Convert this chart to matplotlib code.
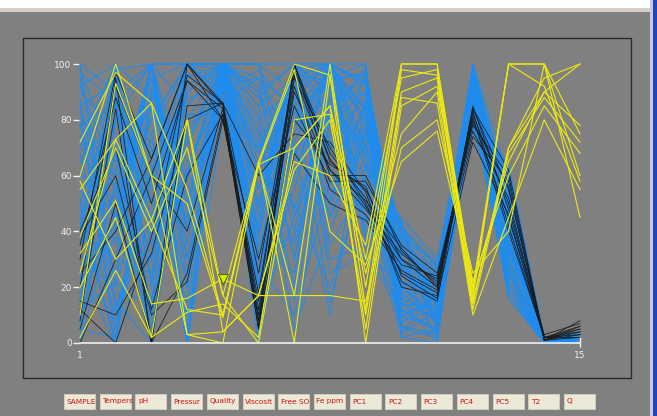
import matplotlib
matplotlib.use("Agg")
import matplotlib.pyplot as plt
from matplotlib.patches import Rectangle

# column buttons under the axes (text as shown, truncated by the widget)
columns = ["SAMPLE", "Tempers", "pH", "Pressur", "Quality", "Viscosit", "Free SO",
           "Fe ppm", "PC1", "PC2", "PC3", "PC4", "PC5", "T2", "Q"]
axis_ids = list(range(1, 16))
y_ticks = [0, 20, 40, 60, 80, 100]

# blue group
blue_rows = [
    [100, 90, 100, 85, 100, 70, 98, 100, 100, 5, 2, 100, 60, 0, 1],
    [98, 65, 80, 100, 100, 90, 100, 95, 96, 10, 5, 98, 55, 1, 2],
    [95, 40, 100, 60, 100, 95, 85, 70, 90, 20, 10, 95, 50, 0, 0],
    [92, 100, 55, 96, 95, 40, 100, 60, 85, 15, 0, 92, 45, 1, 3],
    [90, 75, 30, 100, 100, 20, 60, 98, 80, 30, 8, 90, 40, 0, 1],
    [88, 20, 70, 45, 90, 55, 95, 40, 75, 35, 15, 88, 35, 2, 2],
    [85, 93, 10, 80, 100, 85, 30, 85, 70, 25, 20, 100, 30, 0, 0],
    [83, 55, 95, 30, 85, 10, 75, 100, 65, 40, 25, 96, 25, 1, 4],
    [80, 5, 60, 100, 100, 60, 50, 20, 60, 45, 30, 94, 20, 0, 1],
    [78, 85, 45, 70, 100, 100, 90, 55, 55, 12, 5, 86, 62, 1, 2],
    [75, 35, 100, 0, 80, 30, 100, 90, 50, 8, 12, 84, 58, 0, 0],
    [72, 100, 20, 90, 100, 75, 15, 75, 45, 22, 18, 82, 52, 1, 3],
    [70, 60, 85, 50, 95, 0, 65, 100, 40, 38, 22, 80, 48, 0, 1],
    [68, 15, 0, 100, 100, 45, 98, 30, 35, 42, 28, 78, 42, 2, 2],
    [65, 80, 75, 20, 100, 90, 40, 95, 100, 2, 0, 100, 38, 0, 0],
    [62, 45, 90, 65, 88, 25, 85, 50, 98, 18, 7, 97, 33, 1, 1],
    [60, 95, 35, 100, 100, 65, 0, 80, 94, 28, 14, 93, 28, 0, 4],
    [58, 25, 100, 40, 92, 95, 70, 10, 88, 33, 24, 89, 22, 1, 2],
    [55, 70, 50, 85, 100, 50, 100, 65, 82, 6, 3, 85, 18, 0, 0],
    [52, 10, 65, 0, 100, 15, 55, 100, 78, 14, 9, 81, 64, 2, 1],
    [50, 88, 5, 75, 98, 80, 92, 45, 72, 24, 16, 77, 56, 0, 3],
    [48, 50, 80, 100, 100, 35, 25, 88, 68, 36, 26, 100, 46, 1, 2],
    [45, 0, 40, 55, 84, 70, 80, 98, 62, 44, 4, 99, 36, 0, 0],
    [42, 98, 100, 25, 100, 5, 100, 35, 58, 4, 11, 95, 26, 1, 1],
    [40, 30, 25, 95, 100, 100, 45, 72, 52, 16, 21, 91, 16, 0, 2],
    [38, 78, 70, 10, 94, 55, 88, 100, 48, 26, 27, 87, 60, 2, 3],
    [35, 62, 95, 100, 100, 28, 10, 58, 42, 32, 6, 83, 54, 0, 1],
    [32, 18, 15, 62, 100, 88, 68, 92, 38, 40, 13, 79, 44, 1, 0],
    [30, 90, 60, 88, 90, 42, 100, 25, 32, 11, 19, 76, 34, 0, 2],
    [28, 42, 100, 35, 100, 72, 35, 82, 99, 21, 23, 98, 24, 1, 4],
    [25, 8, 45, 100, 100, 20, 95, 100, 93, 29, 1, 94, 50, 0, 1],
    [22, 68, 0, 78, 86, 95, 58, 48, 87, 37, 10, 90, 40, 2, 2],
    [20, 100, 88, 0, 100, 62, 78, 96, 81, 9, 17, 86, 30, 0, 0],
    [18, 38, 30, 92, 100, 8, 100, 68, 76, 19, 22, 82, 20, 1, 3],
    [15, 82, 72, 48, 96, 78, 20, 100, 70, 27, 29, 78, 62, 0, 1],
    [12, 22, 100, 100, 100, 38, 88, 15, 64, 35, 8, 100, 52, 1, 2],
    [10, 95, 52, 15, 100, 92, 48, 88, 56, 43, 14, 96, 42, 0, 0],
    [8, 58, 12, 82, 82, 50, 100, 62, 46, 3, 20, 92, 32, 2, 1],
    [5, 2, 92, 58, 100, 22, 72, 100, 36, 13, 25, 88, 22, 0, 3],
    [2, 72, 40, 100, 100, 82, 5, 40, 30, 23, 2, 84, 16, 1, 2],
    [0, 48, 100, 5, 98, 68, 96, 94, 97, 31, 6, 80, 58, 0, 0],
    [100, 12, 62, 72, 100, 32, 38, 78, 91, 39, 12, 97, 48, 1, 1],
    [97, 86, 22, 100, 90, 98, 82, 100, 84, 7, 18, 93, 38, 0, 2],
    [60, 52, 100, 42, 100, 12, 100, 52, 79, 17, 24, 89, 28, 2, 4],
    [85, 0, 90, 40, 100, 60, 100, 85, 95, 12, 4, 99, 52, 0, 1],
    [70, 100, 0, 100, 100, 85, 95, 100, 92, 20, 9, 96, 44, 1, 2],
    [55, 30, 100, 0, 96, 40, 100, 90, 86, 26, 15, 91, 36, 0, 0],
    [40, 92, 10, 90, 100, 100, 60, 100, 80, 34, 22, 87, 28, 1, 3],
    [25, 0, 75, 100, 100, 55, 100, 70, 74, 41, 27, 83, 20, 0, 1],
    [10, 80, 100, 30, 92, 0, 90, 100, 66, 6, 3, 79, 60, 2, 2],
    [92, 60, 0, 0, 100, 75, 80, 95, 58, 16, 11, 100, 50, 0, 0],
    [78, 45, 100, 100, 88, 20, 100, 60, 50, 28, 20, 95, 42, 1, 1],
    [64, 98, 40, 60, 100, 92, 30, 100, 44, 38, 29, 90, 34, 0, 3],
    [50, 0, 85, 0, 100, 48, 100, 80, 99, 2, 5, 86, 26, 1, 2],
    [36, 70, 0, 100, 94, 68, 92, 100, 94, 14, 13, 82, 18, 0, 0],
    [22, 40, 100, 50, 100, 10, 45, 88, 89, 24, 18, 78, 58, 2, 1],
    [6, 100, 60, 100, 100, 88, 100, 100, 83, 32, 24, 97, 48, 0, 4],
    [99, 20, 30, 80, 86, 35, 70, 45, 77, 42, 7, 93, 38, 1, 2],
    [45, 85, 100, 20, 100, 100, 100, 100, 71, 10, 16, 88, 30, 0, 1],
    [15, 55, 15, 100, 98, 30, 85, 92, 63, 20, 26, 84, 22, 1, 0],
]

# black group
black_rows = [
    [30, 97, 66, 100, 86, 8, 100, 65, 55, 30, 20, 84, 55, 2, 6],
    [20, 92, 60, 94, 84, 5, 95, 70, 50, 25, 18, 82, 50, 1, 8],
    [10, 84, 0, 85, 86, 12, 90, 62, 48, 32, 22, 80, 45, 2, 4],
    [38, 60, 10, 22, 80, 30, 85, 58, 58, 35, 25, 78, 60, 1, 3],
    [5, 50, 0, 25, 82, 6, 100, 68, 52, 22, 15, 83, 42, 2, 5],
    [25, 40, 66, 100, 85, 10, 92, 55, 46, 28, 24, 76, 52, 1, 2],
    [15, 10, 32, 80, 86, 60, 75, 72, 54, 20, 17, 85, 48, 3, 7],
    [35, 88, 50, 94, 80, 15, 100, 60, 60, 33, 21, 74, 58, 1, 4],
    [0, 30, 60, 40, 84, 8, 68, 50, 44, 26, 19, 81, 40, 2, 3],
    [12, 0, 38, 96, 86, 25, 98, 66, 49, 30, 23, 79, 56, 1, 6],
    [40, 70, 12, 60, 82, 5, 80, 64, 56, 24, 16, 72, 46, 2, 2],
    [8, 95, 0, 100, 80, 18, 96, 62, 51, 34, 20, 84, 62, 1, 5],
]

# yellow group
yellow_rows = [
    [72, 97, 86, 55, 10, 65, 100, 96, 20, 100, 100, 20, 100, 100, 75],
    [60, 100, 60, 50, 9, 64, 70, 85, 30, 95, 98, 15, 70, 90, 100],
    [55, 73, 44, 80, 4, 17, 62, 80, 10, 90, 95, 12, 68, 88, 72],
    [38, 70, 40, 70, 17, 65, 0, 96, 0, 85, 92, 22, 60, 85, 68],
    [32, 51, 14, 16, 23, 17, 65, 60, 35, 100, 100, 18, 100, 92, 58],
    [20, 45, 2, 11, 14, 2, 80, 82, 25, 75, 90, 10, 45, 80, 55],
    [10, 93, 60, 3, 0, 64, 17, 17, 15, 70, 80, 25, 40, 100, 45],
    [2, 26, 2, 80, 17, 0, 70, 85, 5, 88, 86, 14, 70, 95, 100],
    [58, 30, 44, 12, 10, 64, 98, 40, 28, 65, 76, 20, 65, 90, 78],
    [25, 73, 86, 3, 4, 17, 17, 100, 12, 98, 96, 16, 100, 100, 60],
]

marker_axis = 5
marker_value = 23

W, H = 657, 416
fig = plt.figure(figsize=(W / 100, H / 100), dpi=100, facecolor="#808080")

# window chrome: top strip and right border
fig.add_artist(Rectangle((0, 1 - 8 / H), 1, 8 / H, transform=fig.transFigure,
                         facecolor="white", edgecolor="none"))
fig.add_artist(Rectangle((0, 1 - 12 / H), 1, 4 / H, transform=fig.transFigure,
                         facecolor="#D4D0C8", edgecolor="none"))
fig.add_artist(Rectangle((650 / W, 0), 3 / W, 1, transform=fig.transFigure,
                         facecolor="#C8C8E8", edgecolor="none"))
fig.add_artist(Rectangle((653 / W, 0), 4 / W, 1, transform=fig.transFigure,
                         facecolor="#2044C0", edgecolor="none"))

# plot frame
fig.add_artist(Rectangle((23 / W, 1 - 378 / H), 608 / W, 340 / H,
                         transform=fig.transFigure, facecolor="none",
                         edgecolor="#2A2A2A", lw=1))

x0, x1 = 80, 580
ax = fig.add_axes([x0 / W, 73 / H, (x1 - x0) / W, 279 / H])
ax.set_facecolor("none")
ax.set_xlim(1, 15)
ax.set_ylim(0, 100)

for row in blue_rows:
    ax.plot(axis_ids, row, color="#1E8CF0", lw=0.75, clip_on=False)
for row in black_rows:
    ax.plot(axis_ids, row, color="#1A1A1A", lw=0.55, clip_on=False)
for row in yellow_rows:
    ax.plot(axis_ids, row, color="#EEEA10", lw=0.8, clip_on=False)

ax.plot([marker_axis], [marker_value], marker="v", ms=7, color="#C8F000",
        markeredgecolor="#404000", markeredgewidth=0.5, clip_on=False)

for s in ["top", "right", "left"]:
    ax.spines[s].set_visible(False)
ax.spines["bottom"].set_color("#F0F0F0")
ax.spines["bottom"].set_linewidth(1.2)
ax.vlines(15, -1.5, 2, color="#F0F0F0", lw=1, clip_on=False)

ax.set_yticks(y_ticks)
ax.tick_params(axis="y", colors="#F0F0F0", length=5, width=1, labelsize=6.5, pad=1)
ax.set_xticks([1, 15])
ax.set_xticklabels(["1", "15"])
ax.tick_params(axis="x", colors="#F0F0F0", length=0, labelsize=6.5, pad=6)

# column buttons
for i, name in enumerate(columns):
    cx = x0 + i * (x1 - x0) / 14
    left = cx - 16
    fig.add_artist(Rectangle((left / W, 7 / H), 31 / W, 15 / H,
                             transform=fig.transFigure, facecolor="#ECE9D8",
                             edgecolor="#D6D2C2", lw=0.6))
    fig.text((left + 2.5) / W, 14.5 / H, name, fontsize=5.3, color="#D01010",
             ha="left", va="center")

fig.savefig("out.png", dpi=100, facecolor=fig.get_facecolor())
